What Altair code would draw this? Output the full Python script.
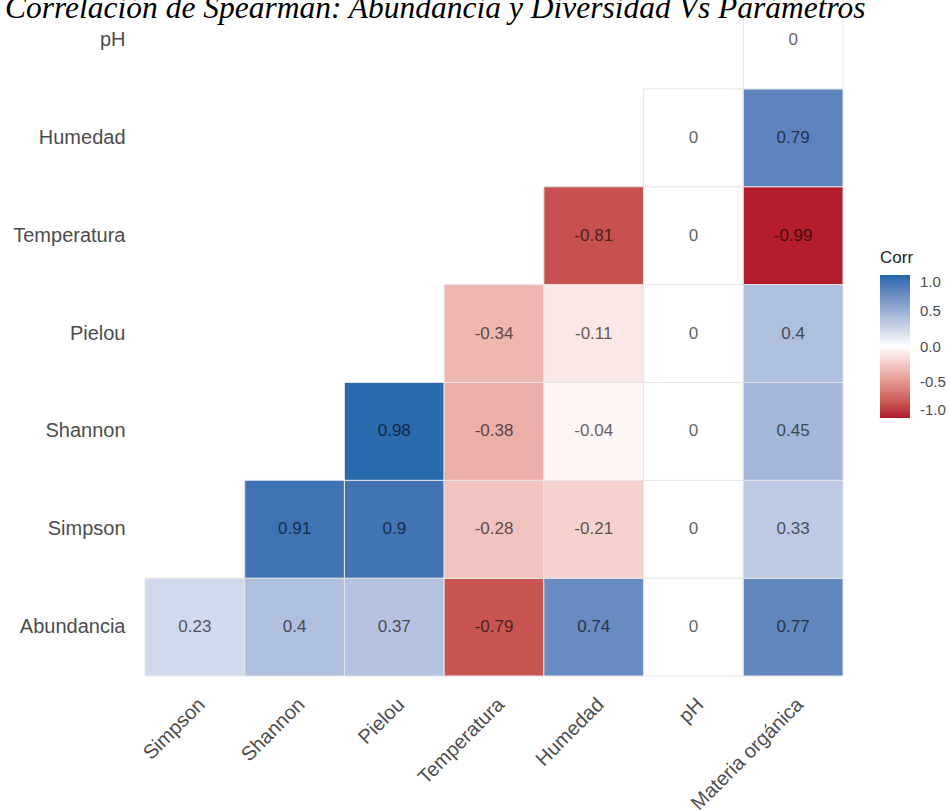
import altair as alt
import pandas as pd

title_text = "Correlación de Spearman: Abundancia y Diversidad Vs Parámetros"

x_labels = ["Simpson", "Shannon", "Pielou", "Temperatura", "Humedad", "pH", "Materia orgánica"]
y_labels = ["Abundancia", "Simpson", "Shannon", "Pielou", "Temperatura", "Humedad", "pH"]

# lower-triangle values, each row starts at the column with the same index
row_abundancia = [0.23, 0.40, 0.37, -0.79, 0.74, 0.00, 0.77]
row_simpson = [0.91, 0.90, -0.28, -0.21, 0.00, 0.33]
row_shannon = [0.98, -0.38, -0.04, 0.00, 0.45]
row_pielou = [-0.34, -0.11, 0.00, 0.40]
row_temperatura = [-0.81, 0.00, -0.99]
row_humedad = [0.00, 0.79]
row_ph = [0.00]

legend_values = [1, 0.5, 0, -0.5, -1]

rows_values = [row_abundancia, row_simpson, row_shannon, row_pielou,
               row_temperatura, row_humedad, row_ph]

records = []
for i, (rname, vals) in enumerate(zip(y_labels, rows_values)):
    for j, v in enumerate(vals):
        records.append({"row": rname, "col": x_labels[i + j], "value": v})
df = pd.DataFrame(records)

label_font = "Liberation Sans"
gray = "#4D4D4D"
MINUS = "\u2212"

x_enc = alt.X("col:N", sort=x_labels,
              scale=alt.Scale(domain=x_labels, paddingInner=0, paddingOuter=0),
              axis=alt.Axis(title=None, labelAngle=-45, labelAlign="right",
                            labelBaseline="top", labelPadding=18,
                            labelFont=label_font, labelFontSize=20,
                            labelColor=gray, ticks=False, domain=False,
                            grid=False))
y_enc = alt.Y("row:N", sort=y_labels[::-1],
              scale=alt.Scale(domain=y_labels[::-1], paddingInner=0, paddingOuter=0),
              axis=alt.Axis(title=None, labelPadding=20, labelFont=label_font,
                            labelFontSize=20, labelColor=gray, ticks=False,
                            domain=False, grid=False))

base = alt.Chart(df)

rect = base.mark_rect(stroke="#E6E6E6", strokeWidth=1).encode(
    x=x_enc,
    y=y_enc,
    color=alt.Color("value:Q",
                    scale=alt.Scale(domain=[-1, 0, 1],
                                    range=["#B2182B", "#FFFFFF", "#2166AC"],
                                    interpolate="lab"),
                    legend=alt.Legend(title="Corr", orient="none",
                                      legendX=735, legendY=259,
                                      direction="vertical",
                                      gradientLength=143, gradientThickness=30,
                                      gradientStrokeWidth=0,
                                      values=legend_values,
                                      labelExpr=f"replace(format(datum.value, '.1f'), '{MINUS}', '-')",
                                      labelBaseline="middle",
                                      labelOverlap=False,
                                      titleFont=label_font, titleFontSize=17,
                                      titleFontWeight="normal", titleColor="#222222",
                                      titlePadding=8,
                                      labelFont=label_font, labelFontSize=15,
                                      labelColor=gray, labelOffset=10)),
)

text = base.transform_calculate(
    label=f"replace(format(datum.value, '.2~f'), '{MINUS}', '-')"
).mark_text(font=label_font, fontSize=17, color="black", opacity=0.62).encode(
    x=alt.X("col:N", sort=x_labels),
    y=alt.Y("row:N", sort=y_labels[::-1]),
    text=alt.Text("label:N"),
)

title = alt.Chart(pd.DataFrame({"t": [title_text]})).mark_text(
    align="left", baseline="alphabetic", font="Liberation Serif",
    fontStyle="italic", fontSize=31.5, color="black"
).encode(x=alt.value(-140), y=alt.value(27), text="t:N")

chart = alt.layer(rect, text, title).properties(
    width=698, height=685,
    autosize=alt.AutoSizeParams(type="none"),
    padding={"left": 145, "top": -9, "right": 106, "bottom": 136},
    background="white",
).configure_view(stroke=None)

chart.save("out.html", embed_options={"renderer": "svg", "actions": False})
